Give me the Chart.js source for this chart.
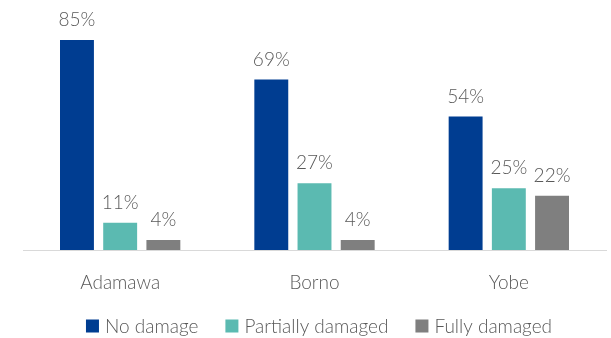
<!DOCTYPE html>
<html>
<head>
<meta charset="utf-8">
<script src="https://cdn.jsdelivr.net/npm/chart.js@4"></script>
<style>
  html, body { margin: 0; padding: 0; background: #ffffff; }
  #wrap { width: 611px; height: 338px; position: relative; }
</style>
</head>
<body>
<div id="wrap"><canvas id="chart-damage"></canvas></div>
<script>
// Estados e percentagens por tipo de dano
var estados = ['Adamawa', 'Borno', 'Yobe'];
var semDano = [85, 69, 54];
var parcial = [11, 27, 25];
var total = [4, 4, 22];
var nomesSeries = ['No damage', 'Partially damaged', 'Fully damaged'];
var cores = ['#003d91', '#5bbab1', '#7f7f7f'];

var corTexto = '#595959';
var fonte = 'Lato, "DejaVu Sans", sans-serif';

// Escreve o valor em cima de cada barra
var rotulosBarras = {
    id: 'rotulosBarras',
    afterDatasetsDraw: function (chart) {
        var ctx = chart.ctx;
        ctx.save();
        ctx.fillStyle = corTexto;
        ctx.font = '300 19px ' + fonte;
        ctx.textAlign = 'center';
        ctx.textBaseline = 'alphabetic';
        chart.data.datasets.forEach(function (ds, i) {
            chart.getDatasetMeta(i).data.forEach(function (bar, j) {
                ctx.fillText(ds.data[j] + '%', bar.x, bar.y - 14);
            });
        });
        ctx.restore();
    }
};

// Legenda desenhada à mão por baixo do eixo (quadrado + texto)
var legendaBaixo = {
    id: 'legendaBaixo',
    afterDraw: function (chart) {
        var ctx = chart.ctx;
        var caixa = 13, folga = 6, entre = 27, yMeio = 326, xMeio = 319;
        ctx.save();
        ctx.font = '300 19px ' + fonte;
        var larguras = chart.data.datasets.map(function (ds) {
            return caixa + folga + ctx.measureText(ds.label).width;
        });
        var totalLarg = larguras.reduce(function (a, b) { return a + b; }, 0) + entre * (larguras.length - 1);
        var x = xMeio - totalLarg / 2;
        ctx.textBaseline = 'middle';
        ctx.textAlign = 'left';
        chart.data.datasets.forEach(function (ds, i) {
            ctx.fillStyle = ds.backgroundColor;
            ctx.fillRect(x, yMeio - caixa / 2, caixa, caixa);
            ctx.fillStyle = corTexto;
            ctx.fillText(ds.label, x + caixa + folga, yMeio + 1);
            x += larguras[i] + entre;
        });
        ctx.restore();
    }
};

var ctx1 = document.getElementById('chart-damage').getContext('2d');
var chart1 = new Chart(ctx1, {
    type: 'bar',
    data: {
        labels: estados,
        datasets: nomesSeries.map(function (nome, i) {
            return { label: nome, data: [semDano, parcial, total][i], backgroundColor: cores[i] };
        })
    },
    options: {
        responsive: true,
        maintainAspectRatio: false,
        animation: false,
        categoryPercentage: 0.667,
        barPercentage: 0.785,
        layout: { padding: { top: 3, left: 23, right: 5, bottom: 0 } },
        scales: {
            x: {
                grid: { display: false, drawTicks: false },
                border: { color: '#d9d9d9', width: 1 },
                ticks: {
                    color: corTexto,
                    padding: 21,
                    font: { family: fonte, size: 19, weight: '300' }
                },
                afterFit: function (scale) { scale.height = 88; }
            },
            y: {
                display: false,
                min: 0,
                max: 100
            }
        },
        plugins: {
            legend: { display: false },
            tooltip: { enabled: false }
        }
    },
    plugins: [rotulosBarras, legendaBaixo]
});
</script>
</body>
</html>
